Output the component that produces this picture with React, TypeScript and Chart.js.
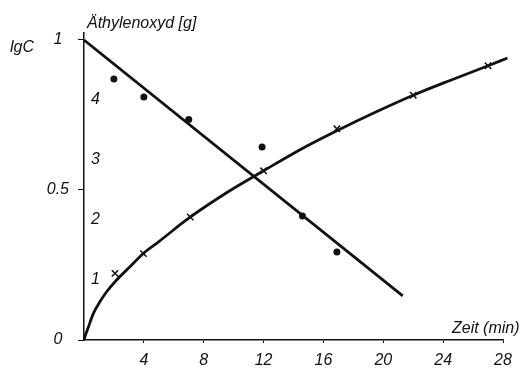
import React, { useEffect, useRef } from "react";
import { Chart, registerables } from "chart.js";

Chart.register(...registerables);

// Zeit (min) values for measured lgC points (dots)
const dotTimes = [2, 4, 7, 11.9, 14.6, 16.9];
const dotLgC = [0.87, 0.81, 0.735, 0.643, 0.413, 0.293];

// Regression line for lgC
const lineTimes = [0, 21.3];
const lineLgC = [1.0, 0.147];

// Äthylenoxyd [g] measured points (crosses)
const crossTimes = [2.07, 3.97, 7.1, 12, 16.9, 22, 27];
const crossGrams = [1.11, 1.44, 2.05, 2.82, 3.52, 4.08, 4.57];

// Smooth curve through Äthylenoxyd values
const curveTimes = [0, 0.07, 0.3, 0.62, 1.07, 1.5, 2.18, 3.07, 4, 5, 7, 9.5, 12, 14.5, 17, 19.5, 22, 24.5, 27, 28.3];
const curveGrams = [0, 0.06, 0.22, 0.44, 0.64, 0.8, 1.0, 1.22, 1.45, 1.64, 2.03, 2.45, 2.82, 3.18, 3.5, 3.8, 4.08, 4.33, 4.57, 4.7];

const xTicks = [4, 8, 12, 16, 20, 24, 28];
const lgTicks = [0, 0.5, 1];
const gramTicks = [1, 2, 3, 4];

const yLabel = "lgC";
const y2Label = "Äthylenoxyd [g]";
const xLabel = "Zeit (min)";

const FONT = "'Liberation Sans', Arial, sans-serif";

export default function App() {
  const ref = useRef<HTMLCanvasElement | null>(null);

  useEffect(() => {
    if (!ref.current) return;
    const pts = (xs: number[], ys: number[]) => xs.map((x, i) => ({ x, y: ys[i] }));

    const titles = {
      id: "titles",
      afterDraw(chart: any) {
        const ctx = chart.ctx;
        ctx.save();
        ctx.fillStyle = "#111";
        ctx.font = `italic 16px ${FONT}`;
        ctx.textBaseline = "alphabetic";
        ctx.textAlign = "left";
        ctx.fillText(yLabel, 10, 52);
        ctx.fillText(y2Label, 87, 28);
        ctx.fillText(xLabel, 452, 333);
        ctx.restore();
      },
    };

    const chart = new Chart(ref.current, {
      type: "scatter",
      data: {
        datasets: [
          {
            data: pts(dotTimes, dotLgC),
            yAxisID: "y",
            showLine: false,
            pointStyle: "circle",
            pointRadius: 3.5,
            backgroundColor: "#111",
            borderColor: "#111",
            borderWidth: 0,
          },
          {
            data: pts(lineTimes, lineLgC),
            yAxisID: "y",
            showLine: true,
            pointRadius: 0,
            borderColor: "#111",
            borderWidth: 2.8,
          },
          {
            data: pts(crossTimes, crossGrams),
            yAxisID: "y2",
            showLine: false,
            pointStyle: "crossRot",
            pointRadius: 4.5,
            borderColor: "#111",
            borderWidth: 1.5,
          },
          {
            data: pts(curveTimes, curveGrams),
            yAxisID: "y2",
            showLine: true,
            cubicInterpolationMode: "monotone",
            pointRadius: 0,
            borderColor: "#111",
            borderWidth: 2.8,
            clip: false,
          } as any,
        ],
      },
      options: {
        animation: false,
        responsive: false,
        maintainAspectRatio: false,
        layout: { padding: { top: 33, right: 29, left: 0, bottom: 0 } },
        plugins: { legend: { display: false }, tooltip: { enabled: false } },
        scales: {
          x: {
            type: "linear",
            min: 0,
            max: 28,
            afterBuildTicks: (s: any) => {
              s.ticks = xTicks.map((v) => ({ value: v }));
            },
            afterFit: (s: any) => {
              s.height = 30;
            },
            border: { display: true, color: "#111", width: 1.5 },
            grid: { display: true, drawOnChartArea: false, drawTicks: true, tickLength: 3, color: "#111" },
            ticks: {
              color: "#111",
              font: { family: FONT, size: 16, style: "italic" },
              padding: 8,
              maxRotation: 0,
              callback: (v: any) => String(v),
            },
          },
          y: {
            type: "linear",
            position: "left",
            weight: 1,
            min: 0,
            max: 1.0233,
            afterBuildTicks: (s: any) => {
              s.ticks = lgTicks.map((v) => ({ value: v }));
            },
            afterFit: (s: any) => {
              s.width = 84;
            },
            border: { display: true, color: "#111", width: 1.5 },
            grid: { display: true, drawOnChartArea: false, drawTicks: true, tickLength: 6, color: "#111" },
            ticks: {
              color: "#111",
              font: { family: FONT, size: 16, style: "italic" },
              padding: 9,
              crossAlign: "center",
              callback: (v: any) => String(v),
            },
          },
          y2: {
            type: "linear",
            position: "left",
            weight: 0,
            min: 0,
            max: 5.1165,
            afterBuildTicks: (s: any) => {
              s.ticks = gramTicks.map((v) => ({ value: v }));
            },
            afterFit: (s: any) => {
              s.width = 0;
            },
            border: { display: false },
            grid: { display: false },
            ticks: {
              color: "#111",
              mirror: true,
              font: { family: FONT, size: 16, style: "italic" },
              padding: 7,
              callback: (v: any) => String(v),
            },
          },
        },
      },
      plugins: [titles],
    } as any);

    return () => chart.destroy();
  }, []);

  return (
    <div style={{ position: "fixed", left: 0, top: 0, width: 532, height: 370, background: "#fff" }}>
      <canvas ref={ref} width={532} height={370} style={{ display: "block", width: 532, height: 370 }} />
    </div>
  );
}
